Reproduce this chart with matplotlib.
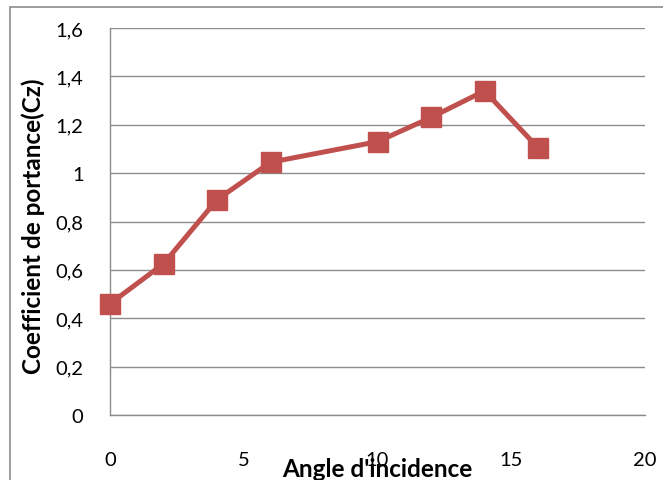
import matplotlib
matplotlib.use("Agg")
import matplotlib.pyplot as plt
from matplotlib.patches import Rectangle

# Lift coefficient versus angle of incidence
angle = [0, 2, 4, 6, 10, 12, 14, 16]
cz = [0.46, 0.625, 0.89, 1.045, 1.13, 1.23, 1.34, 1.105]

x_ticks = [0, 5, 10, 15, 20]
y_ticks = [0, 0.2, 0.4, 0.6, 0.8, 1.0, 1.2, 1.4, 1.6]
y_labels = ["0", "0,2", "0,4", "0,6", "0,8", "1", "1,2", "1,4", "1,6"]

W, H = 663, 481
fig = plt.figure(figsize=(W / 100, H / 100), dpi=100)
plt.rcParams['font.family'] = ['Lato', 'DejaVu Sans']

# outer chart frame
fig.patches.append(Rectangle((10 / W, -0.1), 1.2, 1 - 8 / H + 0.1,
                             transform=fig.transFigure, fill=False,
                             edgecolor='#8c8c8c', linewidth=1.2))

left, right, top, bottom = 110, 645, 29, 416
ax = fig.add_axes([left / W, 1 - bottom / H, (right - left) / W, (bottom - top) / H])

ax.plot(angle, cz, color='#C0504D', linewidth=3.6, marker='s',
        markersize=14, markerfacecolor='#C0504D', markeredgecolor='#C0504D',
        zorder=3, clip_on=False)

ax.set_xlim(0, 20)
ax.set_ylim(0, 1.6)
ax.set_xticks(x_ticks)
ax.set_xticklabels([str(v) for v in x_ticks])
ax.set_yticks(y_ticks)
ax.set_yticklabels(y_labels)
ax.tick_params(axis='both', length=0, labelsize=14.5, colors='black')
ax.tick_params(axis='x', pad=26)
ax.tick_params(axis='y', pad=19)

ax.grid(axis='y', color='#8c8c8c', linewidth=1)
ax.set_axisbelow(True)
for s in ['top', 'right']:
    ax.spines[s].set_visible(False)
for s in ['left', 'bottom']:
    ax.spines[s].set_color('#8c8c8c')
    ax.spines[s].set_linewidth(1)

fig.text(377 / W, 1 - 470 / H, "Angle d'incidence", ha='center', va='center',
         fontsize=17.5, fontweight='bold')
fig.text(33 / W, 1 - 226 / H, "Coefficient de portance(Cz)", ha='center',
         va='center', rotation=90, fontsize=17.5, fontweight='bold')

fig.savefig("out.png", dpi=100)
